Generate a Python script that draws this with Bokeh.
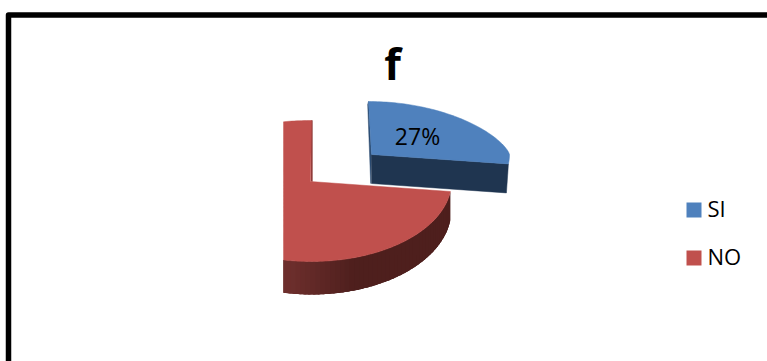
import numpy as np
from bokeh.core.properties import value
from bokeh.embed import file_html
from bokeh.models import Range1d
from bokeh.plotting import figure
from bokeh.resources import INLINE

# Chart data
title = "f"
categories = ["SI", "NO"]
shares = [27, 73]
top_colors = ["#4F81BD", "#C0504D"]

W, H = 767, 361
FONT = "Open Sans"

p = figure(width=W, height=H, output_backend="svg", toolbar_location=None,
           x_range=Range1d(0, W), y_range=Range1d(H, 0),
           min_border=0, outline_line_color=None, background_fill_color="white",
           border_fill_color="white")
p.axis.visible = False
p.grid.visible = False

# Chart frame, running off the right and bottom of the page
p.line([8, 8, W + 5], [H + 5, 14.5, 14.5], line_color="black", line_width=5.5,
       line_join="round")


def rim(cx, cy, a, b_back, b_front, t, back_power=1.0, lean=0.0):
    """Outer edge of a tilted pie: the near half is stretched by perspective."""
    c = np.cos(t)
    y = np.where(c >= 0, -b_back * np.abs(c) ** back_power, b_front * np.abs(c))
    x = cx + a * np.sin(t) + lean * np.maximum(c, 0)
    return x, cy + y


def hex_mix(c0, c1, f):
    c0 = np.array([int(c0[i:i + 2], 16) for i in (1, 3, 5)])
    c1 = np.array([int(c1[i:i + 2], 16) for i in (1, 3, 5)])
    c = (c0 + (c1 - c0) * f).round().astype(int)
    return "#%02x%02x%02x" % tuple(c)


end_si = 2 * np.pi * shares[0] / sum(shares)

# Exploded SI slice: side walls along its cut edges, then the top face
cx, cy, a, bb, bf, depth = 371, 154, 138, 53, 75, 29
t = np.linspace(0, end_si, 80)
x, y = rim(cx, cy, a, bb, bf, t, back_power=1.35, lean=-3)
p.patch([cx, x[0], x[0] - 0.8, cx - 0.8], [cy, y[0], y[0] + 3, cy + depth],
        color="#2A4A70", line_width=0.5)
p.patch([cx, x[-1], x[-1] - 2, cx], [cy, y[-1], y[-1] + depth, cy + depth],
        color="#1F3550", line_width=0.5)
p.patch([cx, *x], [cy, *y], color=top_colors[0], line_width=0.5)

# NO slice, cut off by the plot area on its left side
cx, cy, a, bb, bf = 311, 181, 140, 61, 80
left_limit = 283
t = np.linspace(end_si, 2 * np.pi, 260)
x, y = rim(cx, cy, a, bb, bf, t)

# Outer wall with a horizontal shade; strips overlap so no seams show
wall = np.where((t < 1.6 * np.pi))[0]
for i in wall[:-5:2]:
    j = i + 5
    if x[j] <= left_limit and x[i] <= left_limit:
        continue
    xs = np.maximum(x[i:j + 1], left_limit)
    ys = y[i:j + 1]
    d = 28 + 5 * np.maximum(-np.cos(t[i:j + 1]), 0)
    f = np.clip((350 - xs.mean()) / 67, 0, 1)
    col = hex_mix("#4E1F1D", "#6E2F2D", f)
    p.patch([*xs, *xs[::-1]], [*ys, *(ys + d)[::-1]], fill_color=col, line_color=None)

# Thin visible inner wall beside the gap
p.patch([cx + 1, x[-1] + 1, x[-1] - 0.5, cx - 0.5], [cy, y[-1], y[-1], cy],
        color="#8E3B39", line_width=0.3)
p.patch([cx - 1, *np.maximum(x, left_limit)], [cy, *y], color=top_colors[1], line_width=0.5)

# Slice label
p.text([417], [135], text=[f"{shares[0]}%"], text_font=value(FONT), text_font_size="23px",
       text_align="center", text_baseline="middle", text_color="black")

# Title
p.text([392], [63], text=[title], text_font=value(FONT), text_font_size="43px",
       text_font_style="bold", text_align="center", text_baseline="middle", text_color="black")

# Legend
legend_y = [209.5, 257.5]
text_y = [207.5, 255.5]
p.scatter([693.5] * 2, legend_y, marker="square", size=15, color=top_colors, line_width=0)
p.text([707] * 2, text_y, text=categories, text_font=value(FONT), text_font_size="22px",
       text_align="left", text_baseline="middle", text_color="black")

open("out.html", "w").write(file_html(p, INLINE))
